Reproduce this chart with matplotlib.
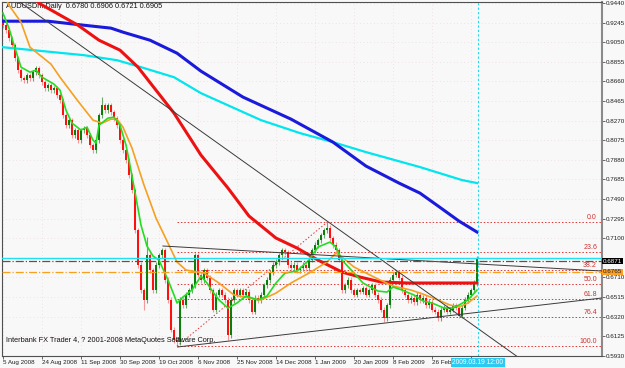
import matplotlib
matplotlib.use("Agg")
import matplotlib.pyplot as plt

plt.rcParams["font.family"] = ["Liberation Sans", "DejaVu Sans"]

# daily AUDUSD closes, one per bar
closes = [
    0.9218, 0.9169, 0.9089, 0.9020, 0.8891, 0.8771, 0.8692, 0.8672, 0.8721, 0.8692,
    0.8751, 0.8791, 0.8721, 0.8652, 0.8592, 0.8622, 0.8572, 0.8592, 0.8523, 0.8473,
    0.8324, 0.8224, 0.8274, 0.8125, 0.8175, 0.8075, 0.8175, 0.8195, 0.8125, 0.8026,
    0.7976, 0.8075, 0.8324, 0.8423, 0.8374, 0.8423, 0.8354, 0.8294, 0.8224, 0.8075,
    0.7976, 0.7877, 0.7728, 0.7578, 0.7181, 0.6833, 0.6584, 0.6485, 0.6932, 0.6783,
    0.6584, 0.6833, 0.6932, 0.6982, 0.6684, 0.6485, 0.6187, 0.6087, 0.6067, 0.6485,
    0.6435, 0.6535, 0.6584, 0.6634, 0.6932, 0.6734, 0.6684, 0.6783, 0.6704, 0.6584,
    0.6386, 0.6535, 0.6584, 0.6535, 0.6485, 0.6137, 0.6485, 0.6584, 0.6535, 0.6584,
    0.6535, 0.6565, 0.6485, 0.6366, 0.6505, 0.6485, 0.6535, 0.6634, 0.6684, 0.6763,
    0.6833, 0.6863, 0.6932, 0.6982, 0.6962, 0.6833, 0.6803, 0.6833, 0.6783, 0.6803,
    0.6833, 0.6803, 0.6883, 0.6982, 0.7032, 0.7081, 0.7131, 0.7181, 0.7201, 0.7101,
    0.7032, 0.6982, 0.6883, 0.6584, 0.6634, 0.6684, 0.6584, 0.6535, 0.6584, 0.6565,
    0.6604, 0.6535, 0.6584, 0.6634, 0.6535, 0.6485, 0.6386, 0.6306, 0.6435, 0.6684,
    0.6734, 0.6763, 0.6704, 0.6584, 0.6535, 0.6485, 0.6505, 0.6465, 0.6535, 0.6485,
    0.6505, 0.6435, 0.6465, 0.6386, 0.6366, 0.6306, 0.6386, 0.6406, 0.6366, 0.6386,
    0.6435, 0.6406, 0.6326, 0.6406, 0.6485, 0.6535, 0.6584, 0.6654, 0.6905,
]
first_open = 0.9268
wick = 0.0025
high_over = {33: 0.8503, 48: 0.7111, 108: 0.7258, 158: 0.6925}
low_over = {47: 0.6386, 58: 0.6018, 75: 0.6087, 127: 0.6267}

# moving averages: (bar, price) points
ma_green_x = [0, 2, 4, 6, 9, 11, 13, 17, 19, 21, 23, 26, 28, 30, 31, 32, 35, 37, 39, 41,
              42, 44, 46, 48, 50, 52, 55, 57, 58, 60, 63, 66, 68, 70, 72, 75, 78, 81, 85, 88,
              91, 94, 98, 102, 105, 109, 111, 113, 117, 120, 125, 128, 130, 133, 137, 140,
              143, 147, 150, 152, 155, 158]
ma_green_y = [0.9338, 0.9188, 0.8990, 0.8801, 0.8751, 0.8771, 0.8701, 0.8632, 0.8572, 0.8373,
              0.8244, 0.8175, 0.8204, 0.8075, 0.8045, 0.8224, 0.8294, 0.8304, 0.8224, 0.8026,
              0.7877, 0.7558, 0.7230, 0.7021, 0.6922, 0.6882, 0.6684, 0.6535, 0.6455, 0.6515,
              0.6584, 0.6723, 0.6654, 0.6564, 0.6485, 0.6405, 0.6455, 0.6525, 0.6485, 0.6525,
              0.6654, 0.6753, 0.6773, 0.6882, 0.7012, 0.7061, 0.7012, 0.6882, 0.6753, 0.6654,
              0.6574, 0.6564, 0.6614, 0.6584, 0.6535, 0.6475, 0.6455, 0.6405, 0.6405, 0.6435,
              0.6485, 0.6584]
ma_orange_x = [0, 2, 6, 9, 16, 19, 25, 30, 33, 36, 38, 40, 43, 47, 51, 55, 58, 61, 67, 72,
               77, 82, 86, 91, 96, 102, 108, 111, 113, 117, 125, 130, 136, 140, 145, 149,
               152, 155, 158]
ma_orange_y = [0.9546, 0.9417, 0.9248, 0.8999, 0.8831, 0.8701, 0.8463, 0.8274, 0.8244, 0.8284,
               0.8284, 0.8204, 0.7996, 0.7628, 0.7300, 0.7051, 0.6863, 0.6783, 0.6753, 0.6654,
               0.6535, 0.6505, 0.6485, 0.6554, 0.6654, 0.6753, 0.6863, 0.6952, 0.6912, 0.6813,
               0.6694, 0.6624, 0.6584, 0.6544, 0.6485, 0.6435, 0.6415, 0.6455, 0.6525]
ma_red_x = [10, 12, 25, 32, 39, 45, 51, 57, 66, 75, 82, 91, 98, 105, 113, 119, 126, 135,
            145, 158]
ma_red_y = [0.9517, 0.9437, 0.9218, 0.9069, 0.8970, 0.8801, 0.8572, 0.8344, 0.7926, 0.7598,
            0.7320, 0.7101, 0.7002, 0.6882, 0.6763, 0.6713, 0.6664, 0.6654, 0.6654, 0.6654]
ma_blue_x = [0, 15, 27, 36, 40, 49, 58, 66, 80, 96, 110, 121, 132, 139, 146, 152, 158]
ma_blue_y = [0.9258, 0.9258, 0.9218, 0.9189, 0.9149, 0.9069, 0.8940, 0.8761, 0.8503, 0.8284,
             0.8055, 0.7817, 0.7648, 0.7548, 0.7399, 0.7270, 0.7161]
ma_cyan_x = [0, 10, 27, 38, 46, 57, 66, 86, 99, 110, 121, 139, 153, 158]
ma_cyan_y = [0.8999, 0.8970, 0.8920, 0.8870, 0.8801, 0.8701, 0.8542, 0.8274, 0.8145, 0.8055,
             0.7956, 0.7807, 0.7678, 0.7648]

# fibonacci retracement between the October low and the January high
fib_start, fib_end = 58, 108
fib_low, fib_high = 0.6025, 0.7258
fib_levels = [0.0, 23.6, 38.2, 50.0, 61.8, 76.4, 100.0]

# hand-drawn trend lines ((bar, price), (bar, price))
trend_lines = [((0, 0.9567), (172, 0.5910)),
               ((53.3, 0.7022), (199.7, 0.6773)),
               ((58.3, 0.6018), (199.7, 0.6505))]

price_ticks = [0.9440, 0.9245, 0.9050, 0.8855, 0.8660, 0.8465, 0.8270, 0.8075, 0.7880,
               0.7685, 0.7490, 0.7295, 0.7100, 0.6710, 0.6515, 0.6320, 0.6125, 0.5930]
date_ticks = [0, 13, 26, 39, 52, 65, 78, 91, 104, 117, 130, 143, 156]
date_labels = ["5 Aug 2008", "24 Aug 2008", "11 Sep 2008", "30 Sep 2008", "19 Oct 2008",
               "6 Nov 2008", "25 Nov 2008", "14 Dec 2008", "1 Jan 2009", "20 Jan 2009",
               "8 Feb 2009", "26 Feb", ""]

bg = "#f8f8f8"
fig = plt.figure(figsize=(6.25, 3.68), dpi=100, facecolor=bg)
ax = fig.add_axes([2 / 625, 12 / 368, 600 / 625, 354 / 368], facecolor=bg)
ax.set_xlim(-0.33, 199.67)
ax.set_ylim(0.5928, 0.9449)

# candles
opens = [first_open] + closes[:-1]
for i, (o, c) in enumerate(zip(opens, closes)):
    hi = high_over.get(i, max(o, c) + wick)
    lo = low_over.get(i, min(o, c) - wick)
    up = c >= o
    ax.vlines(i, lo, hi, color="#6fa86f" if up else "#f29a9a", lw=0.8, zorder=2)
    ax.bar(i, max(abs(c - o), 0.0008), bottom=min(o, c), width=0.65,
           color="#0b7d0b" if up else "#ff1010", zorder=3)

# moving averages
ax.plot(ma_cyan_x, ma_cyan_y, color="#00e5ee", lw=1.6, zorder=4)
ax.plot(ma_blue_x, ma_blue_y, color="#1a1adc", lw=2.2, zorder=4)
ax.plot(ma_red_x, ma_red_y, color="#ee1111", lw=2.2, zorder=4)
ax.plot(ma_orange_x, ma_orange_y, color="#f5a020", lw=1.2, zorder=4)
ax.plot(ma_green_x, ma_green_y, color="#22dd22", lw=1.2, zorder=4)

# fibonacci
for lev in fib_levels:
    p = fib_high - (fib_high - fib_low) * lev / 100
    ax.plot([fib_start, 199.67], [p, p], ls=(0, (1.5, 2)), color="#e03535", lw=0.7, zorder=1)
    ax.text(198, p + 0.001, "%.1f" % lev, color="#cc3030", fontsize=5, ha="right", va="bottom")
ax.plot([fib_start, fib_end], [fib_low, fib_high], ls=(0, (1.5, 2)), color="#e03535", lw=0.7)

for (x0, y0), (x1, y1) in trend_lines:
    ax.plot([x0, x1], [y0, y1], color="#3a3a3a", lw=0.7, zorder=5)

# horizontal price lines and crosshair
ax.axhline(0.6905, color="#22e0f0", lw=1.0, zorder=5)
ax.axhline(0.6871, color="#555555", lw=0.9, ls="-.", zorder=5)
ax.axhline(0.6765, color="#f5a020", lw=0.9, ls="-.", zorder=5)
ax.axvline(158.3, color="#22d8f0", lw=0.8, ls=(0, (2, 2)), zorder=5)

# axes styling
for side in ["left", "top", "bottom"]:
    ax.spines[side].set_color("#505050")
    ax.spines[side].set_linewidth(0.8)
ax.spines["right"].set_color("#8a8a8a")
ax.spines["right"].set_linewidth(1.5)
ax.yaxis.tick_right()
ax.set_yticks(price_ticks)
ax.set_yticklabels(["%.4f" % t for t in price_ticks])
ax.set_xticks(date_ticks)
ax.set_xticklabels(date_labels, ha="left")
ax.tick_params(axis="both", labelsize=4.5, length=2, width=0.6, color="#505050",
               labelcolor="#202020", pad=1.0)
ax.grid(True, ls=(0, (1, 4)), color="#e8d0d0", lw=0.5)
ax.set_axisbelow(True)

ax.text(0.006, 0.987, "AUDUSDm,Daily  0.6780 0.6906 0.6721 0.6905", transform=ax.transAxes,
        fontsize=5.3, color="#111111", va="center", ha="left")
ax.text(0.006, 0.045, "Interbank FX Trader 4, ? 2001-2008 MetaQuotes Software Corp.",
        transform=ax.transAxes, fontsize=5.3, color="#111111", va="center", ha="left")

ytr = ax.get_yaxis_transform()
ax.text(1.002, 0.6871, "0.6871", transform=ytr, fontsize=4.5, color="white", va="center",
        ha="left", clip_on=False, zorder=10,
        bbox=dict(boxstyle="square,pad=0.12", fc="black", ec="none"))
ax.text(1.002, 0.6765, "0.6765", transform=ytr, fontsize=4.5, color="#222222", va="center",
        ha="left", clip_on=False, zorder=10,
        bbox=dict(boxstyle="square,pad=0.12", fc="#ffa020", ec="none"))
xtr = ax.get_xaxis_transform()
ax.text(158.3, -0.018, "2009.03.19 12:00", transform=xtr, fontsize=4.8, color="white",
        va="center", ha="center", clip_on=False, zorder=10,
        bbox=dict(boxstyle="square,pad=0.2", fc="#2ccaf0", ec="none"))

fig.savefig("out.png", dpi=100, facecolor=bg)
